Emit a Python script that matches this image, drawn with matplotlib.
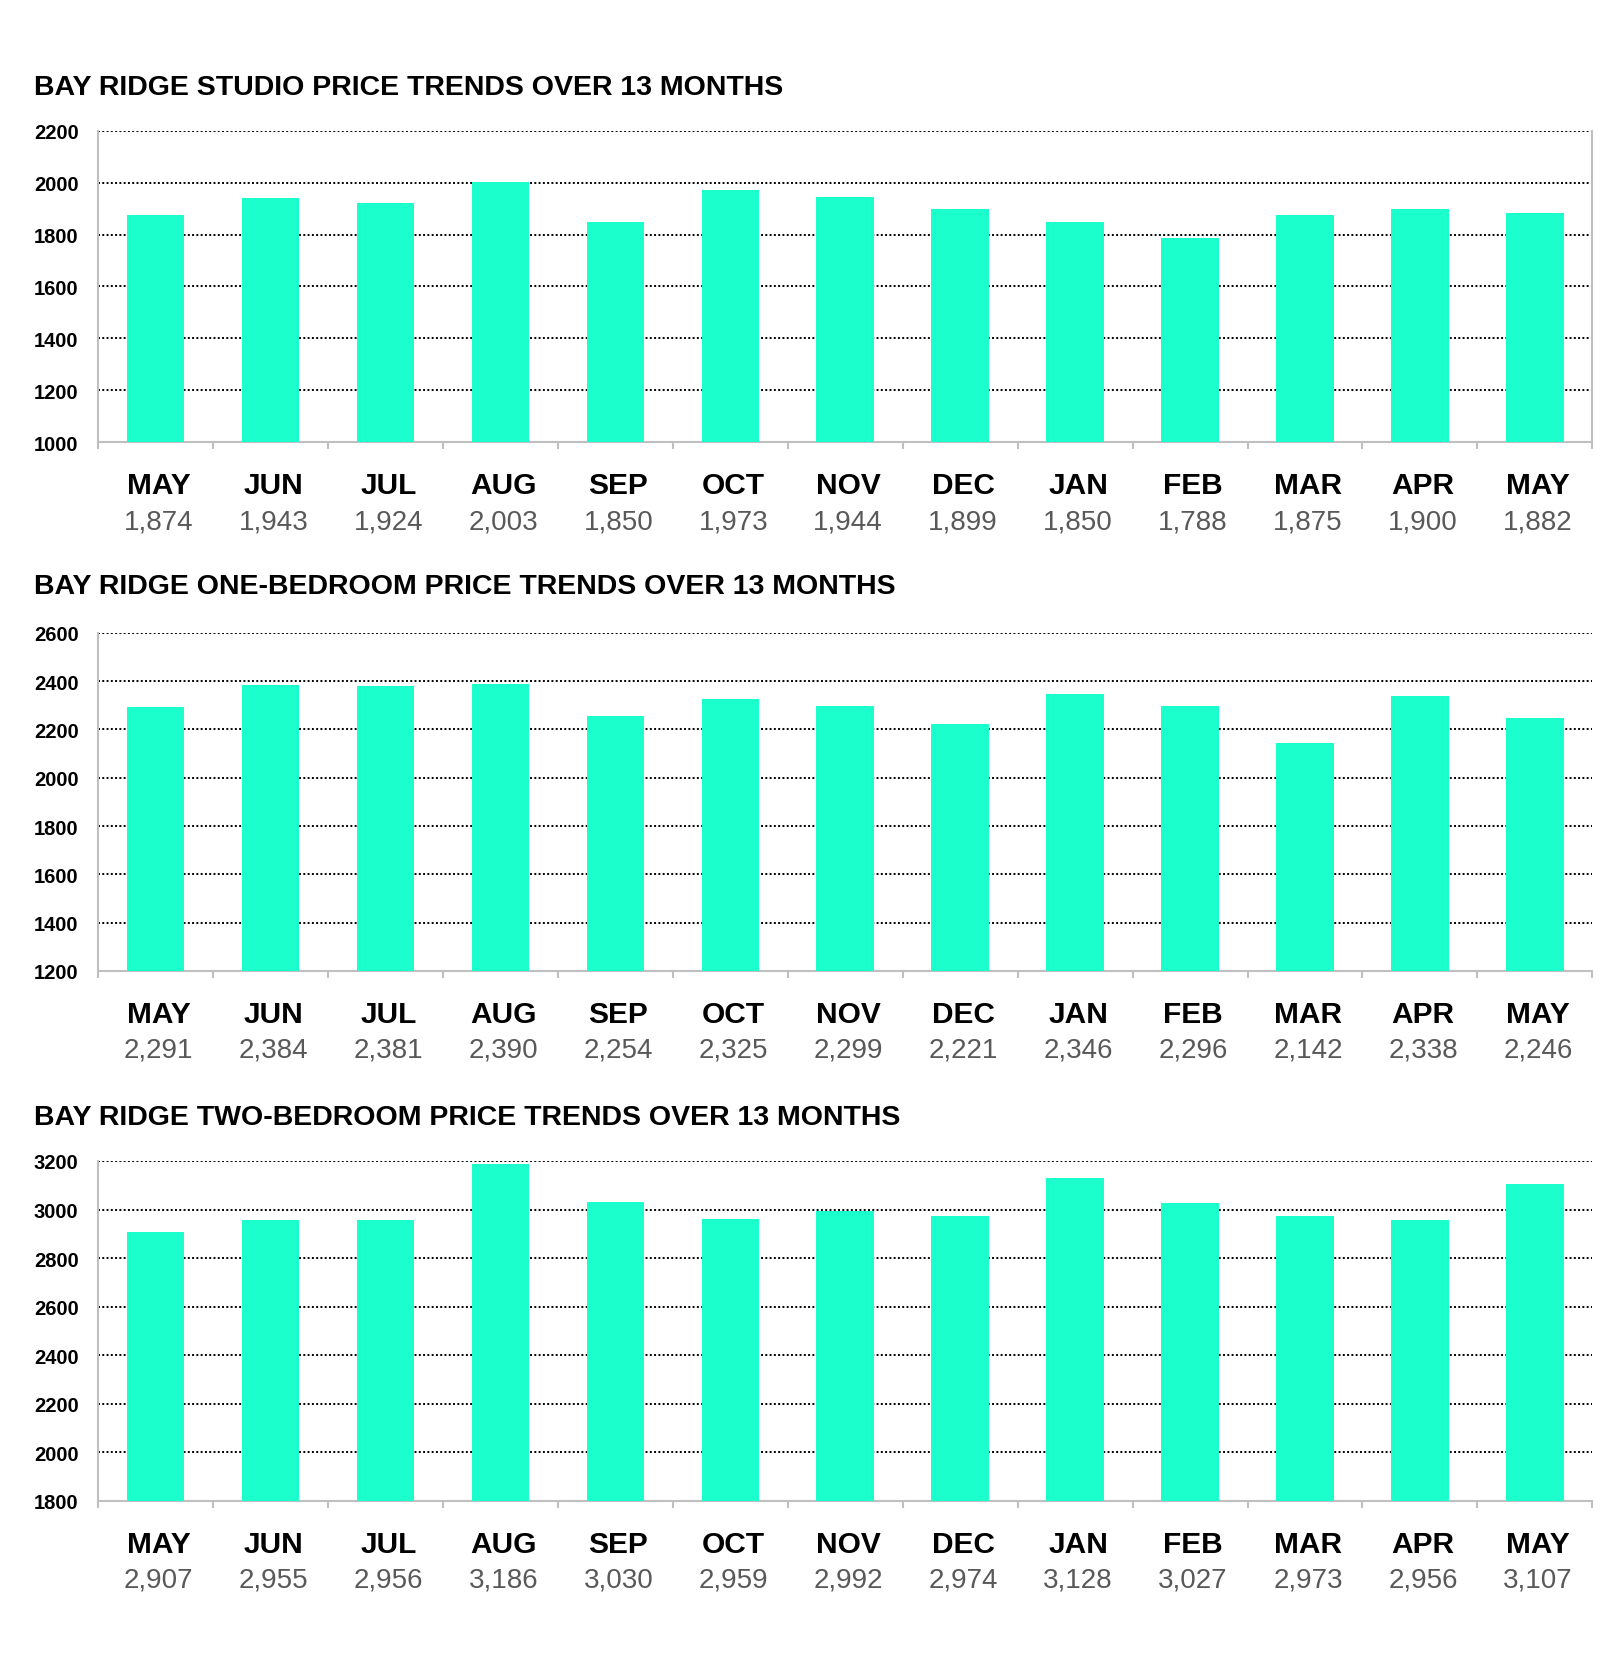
import matplotlib
matplotlib.use("Agg")
import matplotlib.pyplot as plt

plt.rcParams['font.family'] = ['Liberation Sans', 'DejaVu Sans']

months = ["MAY", "JUN", "JUL", "AUG", "SEP", "OCT", "NOV", "DEC", "JAN", "FEB", "MAR", "APR", "MAY"]

studio = [1874, 1943, 1924, 2003, 1850, 1973, 1944, 1899, 1850, 1788, 1875, 1900, 1882]
one_bed = [2291, 2384, 2381, 2390, 2254, 2325, 2299, 2221, 2346, 2296, 2142, 2338, 2246]
two_bed = [2907, 2955, 2956, 3186, 3030, 2959, 2992, 2974, 3128, 3027, 2973, 2956, 3107]

titles = ["BAY RIDGE STUDIO PRICE TRENDS OVER 13 MONTHS",
          "BAY RIDGE ONE-BEDROOM PRICE TRENDS OVER 13 MONTHS",
          "BAY RIDGE TWO-BEDROOM PRICE TRENDS OVER 13 MONTHS"]
series = [studio, one_bed, two_bed]
ylims = [(1000, 2200), (1200, 2600), (1800, 3200)]

BAR = "#1affcc"
GRAY = "#bfbfbf"

fig = plt.figure(figsize=(16, 16.58), dpi=100)

# [left, bottom, width, height], title y
boxes = [[0.06125, 0.7328, 0.934, 0.1876],
         [0.06125, 0.4138, 0.934, 0.2039],
         [0.06125, 0.0941, 0.934, 0.2051]]
title_y = [0.9469, 0.646, 0.3257]

for i in range(3):
    ax = fig.add_axes(boxes[i])
    vals = series[i]
    lo, hi = ylims[i]
    x = list(range(len(vals)))
    ax.bar(x, [v - lo for v in vals], bottom=lo, width=0.5, color=BAR, zorder=3)
    ax.set_xlim(-0.5, len(vals) - 0.5)
    ax.set_ylim(lo, hi)
    ax.set_yticks(range(lo, hi + 1, 200))
    ax.yaxis.grid(True, linestyle=(0, (1, 1.2)), color="black", linewidth=1.4, zorder=1)
    ax.tick_params(axis='y', length=0, labelsize=14.5, pad=14)
    for lab in ax.get_yticklabels():
        lab.set_fontweight('bold')
    # tick marks on category boundaries
    ax.set_xticks([k - 0.5 for k in range(len(vals) + 1)])
    ax.set_xticklabels([])
    ax.tick_params(axis='x', direction='out', length=5, color=GRAY, width=1.5)
    ax.spines["top"].set_visible(False)
    ax.spines["right"].set_visible(i == 0)
    for s in ["left", "bottom", "right"]:
        ax.spines[s].set_color(GRAY)
        ax.spines[s].set_linewidth(1.5)
    for k, (m, v) in enumerate(zip(months, vals)):
        ax.annotate(m, (k, 0), xycoords=('data', 'axes fraction'),
                    xytext=(3, -43), textcoords='offset pixels',
                    ha='center', va='center', fontsize=21.5, fontweight='bold', color='black')
        ax.annotate(f"{v:,}", (k, 0), xycoords=('data', 'axes fraction'),
                    xytext=(3, -79), textcoords='offset pixels',
                    ha='center', va='center', fontsize=20, color='#595959')
    fig.text(0.0215, title_y[i], titles[i], ha='left', va='center',
             fontsize=20.5, fontweight='bold', color='black')

fig.savefig("out.png", dpi=100, facecolor="white")
